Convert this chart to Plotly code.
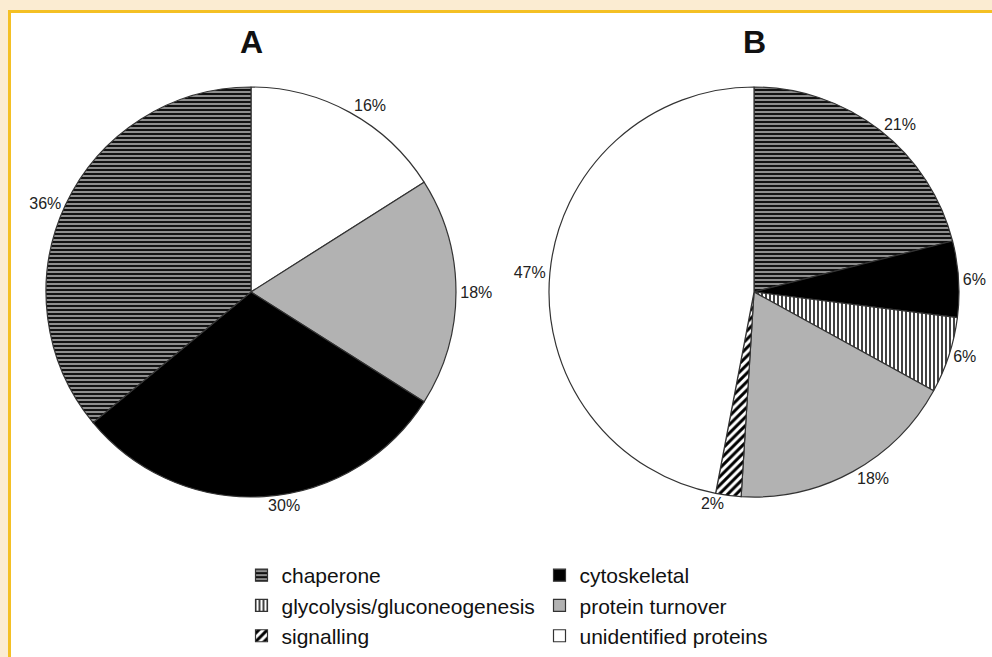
import plotly.graph_objects as go

# ---------------- data ----------------
titles = ["A", "B"]

labels_B = ["chaperone", "cytoskeletal", "glycolysis/gluconeogenesis",
            "protein turnover", "signalling", "unidentified proteins"]
values_B = [21, 6, 6, 18, 2, 47]

labels_A = ["unidentified proteins", "protein turnover", "cytoskeletal", "chaperone"]
values_A = [16, 18, 30, 36]

# ---------------- styles ----------------
STYLE = {
    "chaperone": dict(color="#9a9a9a", shape="-", fg="#111111", size=4, sol=0.55),
    "cytoskeletal": dict(color="#000000", shape="", fg="#000000", size=4, sol=0.5),
    "glycolysis/gluconeogenesis": dict(color="#ffffff", shape="|", fg="#111111", size=4, sol=0.4),
    "protein turnover": dict(color="#b2b2b2", shape="", fg="#b2b2b2", size=4, sol=0.5),
    "signalling": dict(color="#ffffff", shape="/", fg="#000000", size=6, sol=0.5),
    "unidentified proteins": dict(color="#ffffff", shape="", fg="#ffffff", size=4, sol=0.5),
}

FONT = "Liberation Sans, Arial, sans-serif"
W, H = 992, 657
ML, MR, MT, MB = 40, 30, 0, 0
GW, GH = W - ML - MR, H - MT - MB
R = 205
CENTERS = [(251, 292), (754, 292)]


def px2x(px):
    return (px - ML) / GW


def px2y(py):
    return 1 - (py - MT) / GH


def marker_for(labels):
    return dict(
        colors=[STYLE[l]["color"] for l in labels],
        line=dict(color="#333333", width=1.2),
        pattern=dict(
            shape=[STYLE[l]["shape"] for l in labels],
            fgcolor=[STYLE[l]["fg"] for l in labels],
            bgcolor=[STYLE[l]["color"] for l in labels],
            size=[STYLE[l]["size"] for l in labels],
            solidity=[STYLE[l]["sol"] for l in labels],
            fillmode="replace",
        ),
    )


def domain_for(c):
    cx, cy = c
    return dict(x=[px2x(cx - R), px2x(cx + R)], y=[px2y(cy + R), px2y(cy - R)])


fig = go.Figure()
# B first so that legend order follows its category order
for labels, values, c in [(labels_B, values_B, CENTERS[1]), (labels_A, values_A, CENTERS[0])]:
    fig.add_trace(go.Pie(
        labels=labels, values=values, sort=False, direction="clockwise", rotation=0,
        marker=marker_for(labels),
        texttemplate="%{value}%", textposition="outside",
        textfont=dict(family=FONT, size=16, color="#222222"),
        domain=domain_for(c), hoverinfo="label+value",
    ))

annotations = []
for t, c in zip(titles, CENTERS):
    annotations.append(dict(
        text="<b>%s</b>" % t, x=px2x(c[0]), y=px2y(42), xref="paper", yref="paper",
        showarrow=False, xanchor="center", yanchor="middle",
        font=dict(family=FONT, size=32, color="#111111"),
    ))

BW = 40
fig.update_layout(
    width=W, height=H,
    margin=dict(l=ML, r=MR, t=MT, b=MB, autoexpand=False),
    paper_bgcolor="#fbecd2",
    annotations=annotations,
    shapes=[dict(
        type="rect", xref="paper", yref="paper", layer="below",
        x0=px2x(9.5), x1=px2x(W + 20), y0=px2y(H + 20), y1=px2y(11.5),
        fillcolor="#ffffff", line=dict(color="#f4c024", width=3),
    )],
    showlegend=True,
    legend=dict(
        orientation="h", entrywidthmode="pixels", entrywidth=253,
        x=px2x(241.5 - BW), xanchor="left",
        y=px2y(515), yanchor="top",
        borderwidth=BW, bordercolor="rgba(0,0,0,0)", bgcolor="rgba(0,0,0,0)",
        font=dict(family=FONT, size=21, color="#111111"),
        traceorder="normal",
    ),
)

fig.write_html(
    "out.html",
    config={"displayModeBar": False},
    post_script="document.body.style.margin='0';document.body.style.overflow='hidden';",
)
